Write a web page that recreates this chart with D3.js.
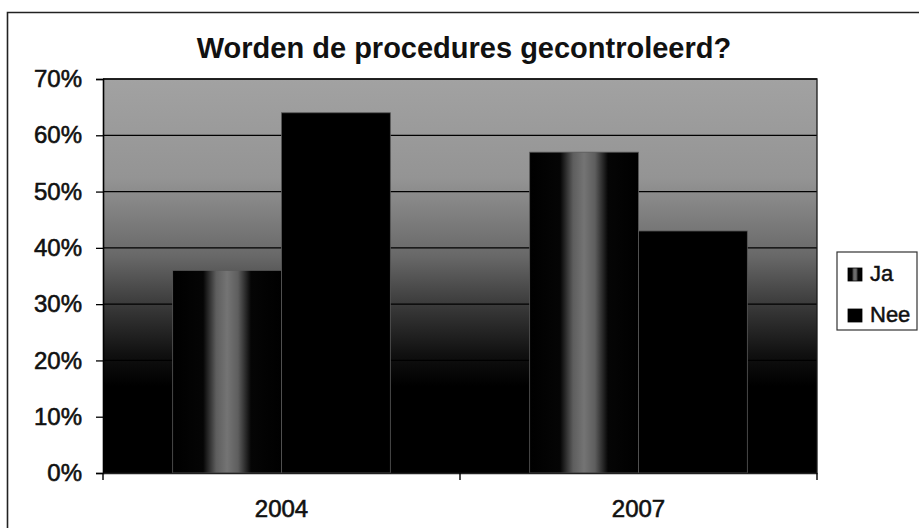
<!DOCTYPE html>
<html>
<head>
<meta charset="utf-8">
<script src="https://cdn.jsdelivr.net/npm/d3@7"></script>
<style>
  html, body { margin: 0; padding: 0; background: #fff; }
  svg { display: block; font-family: "Liberation Sans", Arial, sans-serif; }
</style>
</head>
<body>
<svg id="chart" width="919" height="528"></svg>
<script>
const title = "Worden de procedures gecontroleerd?";
const categories = ["2004", "2007"];
const seriesNames = ["Ja", "Nee"];
const jaValues = [0.36, 0.57];
const neeValues = [0.64, 0.43];
const yTicks = [0, 0.1, 0.2, 0.3, 0.4, 0.5, 0.6, 0.7];

const svg = d3.select("#chart");
const defs = svg.append("defs");

// Background gradient (gray top -> black bottom)
const bg = defs.append("linearGradient").attr("id", "bgGrad")
  .attr("x1", 0).attr("y1", 0).attr("x2", 0).attr("y2", 1);
[[0, "#a2a2a2"], [0.25, "#949494"], [0.45, "#686868"], [0.58, "#383838"], [0.7, "#101010"], [0.78, "#000"], [1, "#000"]]
  .forEach(([o, c]) => bg.append("stop").attr("offset", o).attr("stop-color", c));

// Ja bar gradient (black edges, gray centre streak)
const ja = defs.append("linearGradient").attr("id", "jaGrad")
  .attr("x1", 0).attr("y1", 0).attr("x2", 1).attr("y2", 0);
[[0, "#000"], [0.28, "#050505"], [0.4, "#5e5e5e"], [0.5, "#747474"], [0.6, "#5e5e5e"], [0.72, "#050505"], [1, "#000"]]
  .forEach(([o, c]) => ja.append("stop").attr("offset", o).attr("stop-color", c));

// Outer frame
svg.append("path")
  .attr("d", "M7.5,530 V12.5 H925")
  .attr("fill", "none").attr("stroke", "#222").attr("stroke-width", 1.6);

const pLeft = 103, pRight = 817, pTop = 79, pBottom = 473;

const x0 = d3.scaleBand().domain(categories).range([pLeft, pRight]).padding(0);
const x1 = d3.scaleBand().domain(seriesNames).range([0, x0.bandwidth()])
  .paddingInner(0).paddingOuter(0.64);
const y = d3.scaleLinear().domain([0, 0.7]).range([pBottom, pTop]);

// Plot area background
svg.append("rect")
  .attr("x", pLeft).attr("y", pTop)
  .attr("width", pRight - pLeft).attr("height", pBottom - pTop)
  .attr("fill", "url(#bgGrad)");

// Gridlines
svg.append("g")
  .selectAll("line")
  .data(yTicks.filter(d => d > 0))
  .join("line")
  .attr("x1", pLeft).attr("x2", pRight)
  .attr("y1", d => y(d)).attr("y2", d => y(d))
  .attr("stroke", "#000").attr("stroke-width", 1.3);

// Bars
const data = categories.map((c, i) => ({ cat: c, values: [
  { key: "Ja", value: jaValues[i] },
  { key: "Nee", value: neeValues[i] }
]}));

const groups = svg.append("g").selectAll("g")
  .data(data).join("g")
  .attr("transform", d => `translate(${x0(d.cat)},0)`);

groups.selectAll("rect")
  .data(d => d.values).join("rect")
  .attr("x", d => x1(d.key))
  .attr("y", d => y(d.value))
  .attr("width", x1.bandwidth())
  .attr("height", d => y(0) - y(d.value))
  .attr("fill", d => d.key === "Ja" ? "url(#jaGrad)" : "#000")
  .attr("stroke", "#5a5a5a").attr("stroke-width", 0.8);

// Plot border (top & right)
svg.append("path")
  .attr("d", `M${pLeft},${pTop} H${pRight} V${pBottom}`)
  .attr("fill", "none").attr("stroke", "#1a1a1a").attr("stroke-width", 1.3);

// Y axis
const yAxis = d3.axisLeft(y).tickValues(yTicks)
  .tickFormat(d3.format(".0%")).tickSize(7).tickPadding(14);
const yg = svg.append("g").attr("transform", `translate(${pLeft},0)`).call(yAxis);
yg.select(".domain").attr("stroke", "#000").attr("stroke-width", 1.6);
yg.selectAll(".tick line").attr("stroke", "#000").attr("stroke-width", 1.3);
yg.selectAll(".tick text")
  .attr("font-size", 24).attr("fill", "#111")
  .attr("stroke", "#111").attr("stroke-width", 0.6)
  .attr("font-family", "Liberation Sans, Arial, sans-serif");

// X axis
const xAxis = d3.axisBottom(x0).tickSize(0).tickPadding(27);
const xg = svg.append("g").attr("transform", `translate(0,${pBottom})`).call(xAxis);
xg.select(".domain").attr("stroke", "#222").attr("stroke-width", 1.4);
xg.selectAll(".tick text")
  .attr("font-size", 24).attr("fill", "#111")
  .attr("stroke", "#111").attr("stroke-width", 0.6)
  .attr("font-family", "Liberation Sans, Arial, sans-serif");
// category boundary ticks
const boundaries = categories.map(c => x0(c)).concat([x0(categories[categories.length - 1]) + x0.bandwidth()]);
xg.selectAll(".bound").data(boundaries).join("line")
  .attr("class", "bound")
  .attr("x1", d => d).attr("x2", d => d)
  .attr("y1", 0).attr("y2", 7)
  .attr("stroke", "#000").attr("stroke-width", 1.4);

// Title
svg.append("text")
  .attr("x", 464).attr("y", 58)
  .attr("text-anchor", "middle")
  .attr("font-size", 29).attr("font-weight", "bold").attr("fill", "#111")
  .text(title);

// Legend
const lg = svg.append("g").attr("transform", "translate(837,252)");
lg.append("rect").attr("width", 80).attr("height", 78)
  .attr("fill", "#fff").attr("stroke", "#333").attr("stroke-width", 1.2);
const items = lg.selectAll("g.item").data(seriesNames).join("g")
  .attr("class", "item")
  .attr("transform", (d, i) => `translate(11,${16 + i * 41})`);
items.append("rect")
  .attr("width", 14).attr("height", 13)
  .attr("fill", d => d === "Ja" ? "url(#jaGrad)" : "#000")
  .attr("stroke", "#000").attr("stroke-width", 0.8);
items.append("text")
  .attr("x", 22).attr("y", 13)
  .attr("font-size", 22).attr("fill", "#111")
  .attr("stroke", "#111").attr("stroke-width", 0.5)
  .text(d => d);
</script>
</body>
</html>
